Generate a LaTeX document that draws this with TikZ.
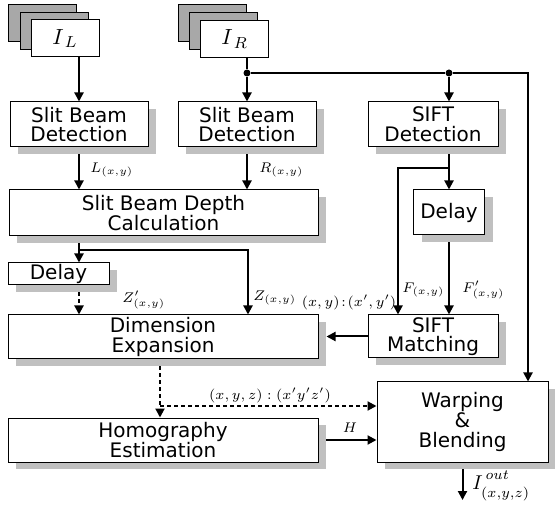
\documentclass[tikz,border=0pt]{standalone}
\usepackage{fontspec}
\setsansfont{DejaVu Sans}
\usetikzlibrary{arrows.meta,positioning,shadows,backgrounds}
\definecolor{shadowgray}{RGB}{192,192,192}
\definecolor{stackgray}{RGB}{168,168,168}

\begin{document}
\begin{tikzpicture}[x=0.5pt, y=-0.5pt, box/.style={rectangle, draw=black, fill=white, line width=0.5pt, align=center, inner sep=0pt, font=\sffamily\fontsize{10}{9.8}\selectfont, drop shadow={shadow xshift=4pt, shadow yshift=-3.5pt, fill=shadowgray, opacity=1}}, frame/.style={rectangle, draw=black, line width=0.5pt, minimum width=34pt, minimum height=18.5pt, inner sep=0pt}, flow/.style={line width=1pt, -{Triangle[length=4.5pt,width=4.5pt]}}, dflow/.style={flow, dash pattern=on 2pt off 1.5pt}, lbl/.style={font=\fontsize{7}{8}\selectfont, inner sep=1pt}, jdot/.style={circle, fill=black, inner sep=0pt, minimum size=3.5pt}]

\useasboundingbox (0,0) rectangle (555,506);

\node[frame, fill=stackgray] (stkL3) at (42,23.5) {};

\node[frame, fill=stackgray] (stkL2) at (54,31) {};

\node[frame, fill=white] (stkL) at (65,38.5) {\fontsize{11}{11}\selectfont$I_{\,L}$};

\node[frame, fill=stackgray] (stkR3) at (212,23.5) {};

\node[frame, fill=stackgray] (stkR2) at (223,31) {};

\node[frame, fill=white] (stkR) at (234.5,39) {\fontsize{11}{11}\selectfont$I_{\,R}$};

\node[box, minimum width=69pt, minimum height=22.5pt] (sbdL) at (79,124.5) {Slit Beam\\Detection};

\node[box, minimum width=69pt, minimum height=22.5pt] (sbdR) at (247,124.5) {Slit Beam\\Detection};

\node[box, minimum width=65pt, minimum height=22.5pt] (siftD) at (433,124.5) {SIFT\\Detection};

\node[box, minimum width=154.5pt, minimum height=23pt] (depth) at (163.5,213) {Slit Beam Depth\\Calculation};

\node[box, minimum width=35.5pt, minimum height=22.5pt] (delayR) at (449,212.5) {Delay};

\node[box, minimum width=50.5pt, minimum height=11pt] (delayL) at (58.5,274) {Delay};

\node[box, minimum width=155pt, minimum height=22pt] (dimexp) at (163,337) {Dimension\\Expansion};

\node[box, minimum width=65pt, minimum height=21.5pt] (siftM) at (433,336.5) {SIFT\\Matching};

\node[box, minimum width=155pt, minimum height=22pt] (homo) at (163,440) {Homography\\Estimation};

\node[box, minimum width=85.5pt, minimum height=40pt] (warp) at (462.5,422) {Warping\\\&\\Blending};

\node[jdot] (jR) at (sbdR.north |- 0,73) {};

\node[jdot] (jS) at (delayR.north |- 0,73) {};

\coordinate (cWarp) at (528,73);

\coordinate (fork) at (449,168);

\coordinate (cF) at (398,168);

\coordinate (cZ) at (248,250);

\coordinate (cD) at (160,406);

\coordinate (cOut) at (462.5,500);

\begin{scope}[on background layer]
\draw[flow] (stkL.south -| sbdL.north) -- (sbdL.north);
\draw[line width=1pt] (stkR.south -| jR) -- (jR);
\draw[flow] (jR) -- (sbdR.north);
\draw[line width=1pt] (jR) -- (jS);
\draw[flow] (jS) -- (jS |- siftD.north);
\draw[flow] (jS) -- (cWarp) -- (cWarp |- warp.north);
\draw[flow] (sbdL.south) -- (sbdL.south |- depth.north);
\draw[flow] (sbdR.south) -- (sbdR.south |- depth.north);
\draw[flow] (siftD.south -| delayR) -- (delayR.north);
\draw[flow] (fork) -- (cF) -- (cF |- siftM.north);
\draw[flow] (delayR.south) -- (delayR.south |- siftM.north);
\draw[flow] (depth.south -| sbdL) -- (sbdL |- delayL.north);
\draw[flow] (sbdL |- cZ) -- (cZ) -- (cZ |- dimexp.north);
\draw[dflow] (delayL.south -| sbdL) -- (sbdL |- dimexp.north);
\draw[dflow] (dimexp.south -| cD) -- (cD |- homo.north);
\draw[dflow] (cD) -- (cD -| warp.west);
\draw[flow] (homo.east) -- (homo.east -| warp.west);
\draw[flow] (warp.south) -- (cOut);
\end{scope}

\draw[flow] (siftM.west) -- ([xshift=4pt]siftM.west -| dimexp.east);

\node[lbl, anchor=west] (lL) at (88,170) {$L_{(x,y)}$};

\node[lbl, anchor=west] (lR) at (257,170) {$R_{(x,y)}$};

\node[lbl, anchor=west] (lZp) at (120,300) {$Z'_{(x,y)}$};

\node[lbl, anchor=west] (lZ) at (251,298) {$Z_{(x,y)}$};

\node[lbl] (lM) at (349,302) {$(x,y)\!:\!(x',y')$};

\node[lbl, anchor=west] (lF) at (400,290) {$F_{(x,y)}$};

\node[lbl, anchor=west] (lFp) at (460,290) {$F'_{(x,y)}$};

\node[lbl] (lD) at (270,395) {$(x,y,z):(x'y'z')$};

\node[lbl] (lH) at (350,428) {$H$};

\node[lbl, anchor=west] (lOut) at (470,486) {\fontsize{10}{10}\selectfont$I^{\raisebox{1.5pt}{$\scriptstyle\,out$}}_{\raisebox{-1.5pt}{$\scriptstyle(x,y,z)$}}$};

\end{tikzpicture}
\end{document}
